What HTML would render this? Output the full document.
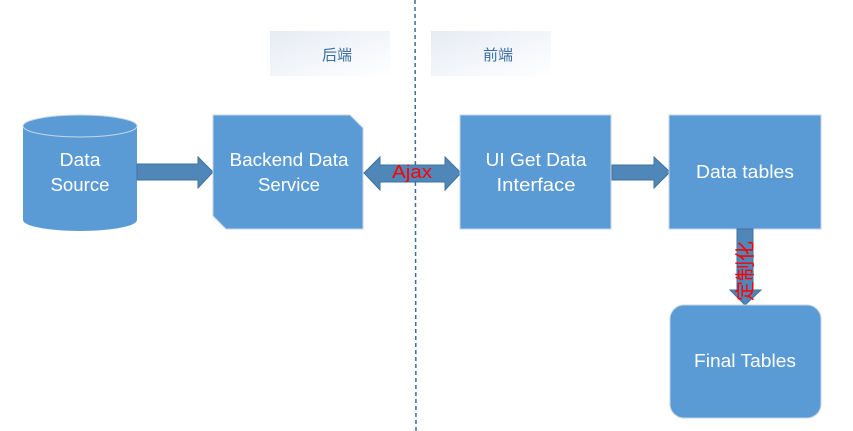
<!DOCTYPE html>
<html><head><meta charset="utf-8"><style>
html,body{margin:0;padding:0;background:#fff;width:853px;height:431px;overflow:hidden}
</style></head><body>
<svg width="853" height="431" viewBox="0 0 853 431" xmlns="http://www.w3.org/2000/svg" font-family="'Liberation Sans', 'Noto Sans CJK SC', sans-serif">
<defs>
<linearGradient id="hg" x1="0" y1="0" x2="1" y2="1">
<stop offset="0" stop-color="#e6ebf3"/><stop offset="1" stop-color="#ffffff"/>
</linearGradient>
</defs>
<rect x="270" y="31" width="120" height="45" fill="url(#hg)"/>
<rect x="431" y="31" width="120" height="45" fill="url(#hg)"/>
<text x="337" y="60" font-size="15" fill="#3b6ea5" text-anchor="middle" font-family="'Noto Sans CJK SC',sans-serif">后端</text>
<text x="498" y="60" font-size="15" fill="#3b6ea5" text-anchor="middle" font-family="'Noto Sans CJK SC',sans-serif">前端</text>
<line x1="415" y1="0" x2="416" y2="431" stroke="#3e6b9a" stroke-width="1.5" stroke-dasharray="4,3"/>
<path d="M23,126 L23,220 A57,11 0 0 0 137,220 L137,126" fill="#5b9bd5"/>
<ellipse cx="80" cy="126" rx="57" ry="11" fill="#5b9bd5" stroke="#c8d6e6" stroke-width="1"/>
<text x="80" y="166" font-size="18" fill="#fff" text-anchor="middle" textLength="41" lengthAdjust="spacingAndGlyphs">Data</text>
<text x="80" y="191" font-size="18" fill="#fff" text-anchor="middle" textLength="59" lengthAdjust="spacingAndGlyphs">Source</text>
<polygon points="137,164 198,164 198,157 213,172 198,188 198,180 137,180" fill="#4f87b9" stroke="#41719c" stroke-width="1"/>
<polygon points="213,115 350,115 363,128 363,229 226,229 213,216" fill="#5b9bd5" stroke="#c5d3e3" stroke-width="1"/>
<text x="289" y="166" font-size="18" fill="#fff" text-anchor="middle" textLength="119" lengthAdjust="spacingAndGlyphs">Backend Data</text>
<text x="289" y="191" font-size="18" fill="#fff" text-anchor="middle" textLength="62" lengthAdjust="spacingAndGlyphs">Service</text>
<polygon points="364,173 380,157 380,165 445,165 445,157 461,173 445,190 445,182 380,182 380,190" fill="#4f87b9" stroke="#41719c" stroke-width="1"/>
<text x="412" y="178" font-size="18" fill="#ff0000" text-anchor="middle" textLength="40" lengthAdjust="spacingAndGlyphs">Ajax</text>
<rect x="460" y="115" width="151" height="114" fill="#5b9bd5" stroke="#c5d3e3" stroke-width="1"/>
<text x="536" y="166" font-size="18" fill="#fff" text-anchor="middle" textLength="101" lengthAdjust="spacingAndGlyphs">UI Get Data</text>
<text x="536" y="191" font-size="18" fill="#fff" text-anchor="middle" textLength="79" lengthAdjust="spacingAndGlyphs">Interface</text>
<polygon points="612,165 654,165 654,157 670,172 654,188 654,180 612,180" fill="#4f87b9" stroke="#41719c" stroke-width="1"/>
<rect x="669" y="115" width="152" height="114" fill="#5b9bd5" stroke="#c5d3e3" stroke-width="1"/>
<text x="745" y="178" font-size="18" fill="#fff" text-anchor="middle" textLength="98" lengthAdjust="spacingAndGlyphs">Data tables</text>
<polygon points="737,229 753,229 753,290 761,290 745,305 730,290 737,290" fill="#4f87b9" stroke="#41719c" stroke-width="1"/>
<text transform="translate(752,271) rotate(-90)" font-size="20" fill="#ff0000" text-anchor="middle" font-family="'Noto Sans CJK SC',sans-serif">定制化</text>
<rect x="670" y="305" width="151" height="113" rx="14" fill="#5b9bd5" stroke="#c5d3e3" stroke-width="1"/>
<text x="745" y="367" font-size="18" fill="#fff" text-anchor="middle" textLength="102" lengthAdjust="spacingAndGlyphs">Final Tables</text>
</svg>
</body></html>
